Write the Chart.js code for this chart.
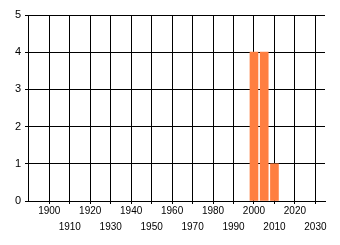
<!DOCTYPE html>
<html>
<head>
    <title>Bar Chart</title>
    <script src="https://cdn.jsdelivr.net/npm/chart.js"></script>
</head>
<body style="margin: 0; background-color: #ffffff;">
    <div style="width: 340px; height: 245px;">
        <canvas id="myChart" width="340" height="245"></canvas>
    </div>

    <script>
        // Data
        var years = [2000, 2005, 2010];
        var counts = [4, 4, 1];
        var xTicks = [1900, 1910, 1920, 1930, 1940, 1950, 1960, 1970, 1980, 1990, 2000, 2010, 2020, 2030];
        var yTicks = [0, 1, 2, 3, 4, 5];

        var points = years.map(function (y, i) { return { x: y, y: counts[i] }; });
        var font = { family: "'Liberation Sans', Arial, sans-serif", size: 10, lineHeight: 1.6 };

        var ctx = document.getElementById('myChart').getContext('2d');
        var myChart = new Chart(ctx, {
            type: 'bar',
            data: {
                datasets: [{
                    data: points,
                    backgroundColor: '#ff7f40',
                    borderWidth: 0,
                    barThickness: 8
                }]
            },
            options: {
                responsive: false,
                animation: false,
                layout: { padding: { top: 15, right: 15, left: 0, bottom: 0 } },
                plugins: {
                    legend: { display: false },
                    tooltip: { enabled: false }
                },
                scales: {
                    x: {
                        type: 'linear',
                        offset: false,
                        min: 1889.6,
                        max: 2034.7,
                        afterBuildTicks: function (axis) {
                            axis.ticks = xTicks.map(function (v) { return { value: v }; });
                        },
                        afterFit: function (axis) { axis.height = 44; },
                        grid: { offset: false, color: '#000000', lineWidth: 1, tickLength: 3 },
                        border: { color: '#000000', width: 1 },
                        ticks: {
                            color: '#000000',
                            font: font,
                            padding: -1,
                            maxRotation: 0,
                            autoSkip: false,
                            callback: function (value) {
                                var i = xTicks.indexOf(value);
                                return i % 2 === 0 ? [String(value)] : ['', String(value)];
                            }
                        }
                    },
                    y: {
                        min: 0,
                        max: 5,
                        afterBuildTicks: function (axis) {
                            axis.ticks = yTicks.map(function (v) { return { value: v }; });
                        },
                        afterFit: function (axis) { axis.width = 28; },
                        grid: { color: '#000000', lineWidth: 1, tickLength: 3 },
                        border: { color: '#000000', width: 1 },
                        ticks: {
                            color: '#000000',
                            font: { family: "'Liberation Sans', Arial, sans-serif", size: 11 },
                            padding: 4
                        }
                    }
                }
            }
        });
    </script>
</body>
</html>
